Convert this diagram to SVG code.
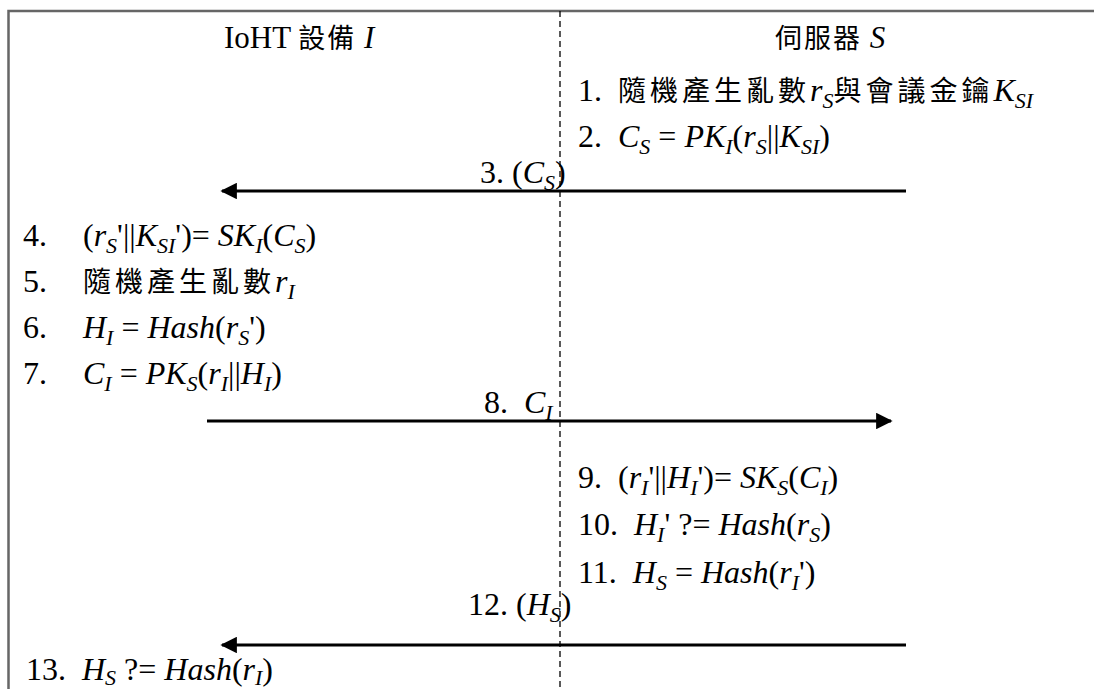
<svg xmlns="http://www.w3.org/2000/svg" width="1094" height="689" viewBox="0 0 1094 689">
<style>
text{font-family:"Liberation Serif","Noto Sans CJK TC",serif;font-size:32px;fill:#000;white-space:pre}
.i{font-style:italic}
.s{font-style:italic;font-size:22px}
.cjk{font-family:"Noto Sans CJK TC","Liberation Serif",sans-serif;font-size:28px;letter-spacing:4px}
.hd{font-size:31px}
.hc{font-family:"Noto Sans CJK TC","Liberation Serif",sans-serif;font-size:27px;letter-spacing:2px}
.frame{stroke:#666;stroke-width:2.5;fill:none}
.life{stroke:#000;stroke-width:1.3;stroke-dasharray:6 4;fill:none}
.msg{stroke:#000;stroke-width:3;fill:none}
</style>
<defs>
<marker id="ah" viewBox="0 0 10 10" refX="9" refY="5" markerWidth="6" markerHeight="5.5" orient="auto" markerUnits="strokeWidth">
<path d="M0,0 L10,5 L0,10 Z" fill="#000"/>
</marker>
</defs>
<rect width="1094" height="689" fill="#fff"/>
<g id="frame">
<path class="frame" d="M1094,11 H8.5 V689"/>
<line class="life" x1="560" y1="11" x2="560" y2="689"/>
</g>
<g id="device-I">
<text class="hd" x="224" y="48">IoHT <tspan class="hc">設備</tspan> <tspan class="i">I</tspan></text>
<text x="23" y="246">4.<tspan x="83">(<tspan class="i">r</tspan><tspan class="s" dy="7">S</tspan><tspan dy="-7">'||</tspan><tspan class="i">K</tspan><tspan class="s" dy="7">SI</tspan><tspan dy="-7">')= </tspan><tspan class="i">SK</tspan><tspan class="s" dy="7">I</tspan><tspan dy="-7">(</tspan><tspan class="i">C</tspan><tspan class="s" dy="7">S</tspan><tspan dy="-7">)</tspan></tspan></text>
<text x="23" y="292">5.<tspan x="83" class="cjk">隨機產生亂數</tspan><tspan class="i">r</tspan><tspan class="s" dy="7">I</tspan></text>
<text x="23" y="338">6.<tspan x="83" class="i">H</tspan><tspan class="s" dy="7">I</tspan><tspan dy="-7"> = </tspan><tspan class="i">Hash</tspan>(<tspan class="i">r</tspan><tspan class="s" dy="7">S</tspan><tspan dy="-7">')</tspan></text>
<text x="23" y="384">7.<tspan x="83" class="i">C</tspan><tspan class="s" dy="7">I</tspan><tspan dy="-7"> = </tspan><tspan class="i">PK</tspan><tspan class="s" dy="7">S</tspan><tspan dy="-7">(</tspan><tspan class="i">r</tspan><tspan class="s" dy="7">I</tspan><tspan dy="-7">||</tspan><tspan class="i">H</tspan><tspan class="s" dy="7">I</tspan><tspan dy="-7">)</tspan></text>
<text x="26" y="680">13.  <tspan class="i">H</tspan><tspan class="s" dy="5">S</tspan><tspan dy="-5"> ?= </tspan><tspan class="i">Hash</tspan>(<tspan class="i">r</tspan><tspan class="s" dy="5">I</tspan><tspan dy="-5">)</tspan></text>
</g>
<g id="server-S">
<text class="hd" x="775" y="48"><tspan class="hc">伺服器</tspan> <tspan class="i">S</tspan></text>
<text x="578" y="101">1.  <tspan class="cjk">隨機產生亂數</tspan><tspan class="i">r</tspan><tspan class="s" dy="7">S</tspan><tspan class="cjk" dy="-7">與會議金鑰</tspan><tspan class="i">K</tspan><tspan class="s" dy="7">SI</tspan></text>
<text x="578" y="147">2.  <tspan class="i">C</tspan><tspan class="s" dy="7">S</tspan><tspan dy="-7"> = </tspan><tspan class="i">PK</tspan><tspan class="s" dy="7">I</tspan><tspan dy="-7">(</tspan><tspan class="i">r</tspan><tspan class="s" dy="7">S</tspan><tspan dy="-7">||</tspan><tspan class="i">K</tspan><tspan class="s" dy="7">SI</tspan><tspan dy="-7">)</tspan></text>
<text x="578" y="488">9.  (<tspan class="i">r</tspan><tspan class="s" dy="7">I</tspan><tspan dy="-7">'||</tspan><tspan class="i">H</tspan><tspan class="s" dy="7">I</tspan><tspan dy="-7">')= </tspan><tspan class="i">SK</tspan><tspan class="s" dy="7">S</tspan><tspan dy="-7">(</tspan><tspan class="i">C</tspan><tspan class="s" dy="7">I</tspan><tspan dy="-7">)</tspan></text>
<text x="578" y="535">10.  <tspan class="i">H</tspan><tspan class="s" dy="7">I</tspan><tspan dy="-7">' ?= </tspan><tspan class="i">Hash</tspan>(<tspan class="i">r</tspan><tspan class="s" dy="7">S</tspan><tspan dy="-7">)</tspan></text>
<text x="578" y="583">11.  <tspan class="i">H</tspan><tspan class="s" dy="7">S</tspan><tspan dy="-7"> = </tspan><tspan class="i">Hash</tspan>(<tspan class="i">r</tspan><tspan class="s" dy="7">I</tspan><tspan dy="-7">')</tspan></text>
</g>
<g id="connectors">
<line class="msg" x1="906" y1="191" x2="222" y2="191" marker-end="url(#ah)"/>
<line class="msg" x1="207" y1="421" x2="891" y2="421" marker-end="url(#ah)"/>
<line class="msg" x1="906" y1="645" x2="222" y2="645" marker-end="url(#ah)"/>
<text x="480" y="183">3. (<tspan class="i">C</tspan><tspan class="s" dy="7">S</tspan><tspan dy="-7">)</tspan></text>
<text x="484" y="413">8.  <tspan class="i">C</tspan><tspan class="s" dy="7">I</tspan></text>
<text x="468" y="615">12. (<tspan class="i">H</tspan><tspan class="s" dy="7">S</tspan><tspan dy="-7">)</tspan></text>
</g>
</svg>
